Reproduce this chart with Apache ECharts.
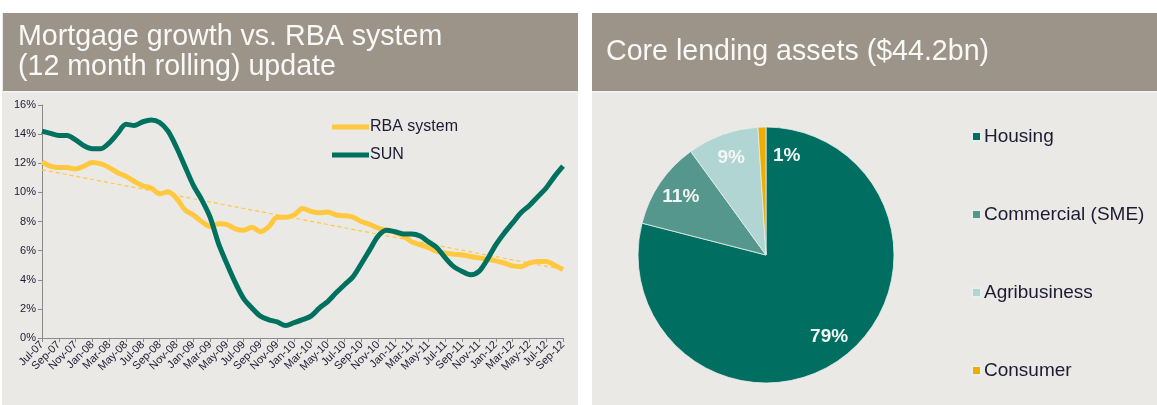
<!DOCTYPE html>
<html>
<head>
<meta charset="utf-8">
<script src="https://cdn.jsdelivr.net/npm/echarts@6/dist/echarts.min.js"></script>
<style>
  html, body { margin: 0; padding: 0; background: #ffffff; }
  #chart { width: 1157px; height: 405px; }
</style>
</head>
<body>
<div id="chart"></div>
<script>
// ---- Data ----
var months = ['Jul-07','Aug-07','Sep-07','Oct-07','Nov-07','Dec-07',
  'Jan-08','Feb-08','Mar-08','Apr-08','May-08','Jun-08','Jul-08','Aug-08','Sep-08','Oct-08','Nov-08','Dec-08',
  'Jan-09','Feb-09','Mar-09','Apr-09','May-09','Jun-09','Jul-09','Aug-09','Sep-09','Oct-09','Nov-09','Dec-09',
  'Jan-10','Feb-10','Mar-10','Apr-10','May-10','Jun-10','Jul-10','Aug-10','Sep-10','Oct-10','Nov-10','Dec-10',
  'Jan-11','Feb-11','Mar-11','Apr-11','May-11','Jun-11','Jul-11','Aug-11','Sep-11','Oct-11','Nov-11','Dec-11',
  'Jan-12','Feb-12','Mar-12','Apr-12','May-12','Jun-12','Jul-12','Aug-12','Sep-12'];

var rbaSystem = [12.1, 11.8, 11.7, 11.7, 11.6, 11.8, 12.05, 11.95, 11.7, 11.35, 11.1, 10.75, 10.45, 10.3, 9.9, 10.05,
  9.6, 8.8, 8.45, 8.0, 7.65, 7.85, 7.8, 7.5, 7.4, 7.6, 7.3, 7.65, 8.3, 8.3, 8.45, 8.9, 8.7, 8.6, 8.65, 8.45,
  8.4, 8.3, 8.0, 7.8, 7.55, 7.4, 7.25, 7.0, 6.6, 6.4, 6.2, 5.95, 5.83, 5.76, 5.7, 5.6, 5.5, 5.4, 5.3, 5.15,
  4.95, 4.9, 5.15, 5.25, 5.25, 5.0, 4.7];

var sun = [14.2, 14.05, 13.9, 13.9, 13.6, 13.2, 13.0, 13.0, 13.4, 14.05, 14.67, 14.6, 14.85, 14.97, 14.8, 14.2,
  13.1, 11.8, 10.5, 9.5, 8.3, 6.5, 5.1, 3.8, 2.7, 2.05, 1.5, 1.25, 1.1, 0.85, 1.05, 1.26, 1.5, 2.05, 2.5, 3.1,
  3.66, 4.2, 5.1, 6.05, 7.0, 7.4, 7.3, 7.15, 7.15, 7.0, 6.6, 6.2, 5.5, 4.9, 4.57, 4.34, 4.57, 5.4, 6.4, 7.2,
  7.9, 8.6, 9.1, 9.7, 10.3, 11.1, 11.8];

// linear trend of RBA system (end points)
var rbaTrendStart = 11.55;
var rbaTrendEnd = 4.7;

var yTicks = [0, 2, 4, 6, 8, 10, 12, 14, 16];

var lendingNames = ['Housing', 'Commercial (SME)', 'Agribusiness', 'Consumer'];
var lendingShares = [79, 11, 9, 1];

var leftTitle = 'Mortgage growth vs. RBA system\n(12 month rolling) update';
var rightTitle = 'Core lending assets ($44.2bn)';

// ---- Styles ----
var GREEN = '#00705f';
var YELLOW = '#ffc83e';
var pieColors = ['#006f62', '#56978d', '#b1d5d2', '#efad00'];
var HEADER = '#9c9389';
var PANEL = '#ebe9e5';
var TEXT = '#1b1b33';
var FONT = '"Liberation Sans", Arial, sans-serif';

var chart = echarts.init(document.getElementById('chart'), null, {renderer: 'canvas'});

var pieData = lendingNames.map(function (n, i) {
  return { name: n, value: lendingShares[i], itemStyle: { color: pieColors[i] } };
});
var pieLabelData = lendingNames.map(function (n, i) {
  var d = { name: n, value: lendingShares[i] };
  if (lendingShares[i] < 3) { d.label = { offset: [24, 4] }; }
  return d;
});

var trendData = [[0, rbaTrendStart], [months.length - 1, rbaTrendEnd]];

var option = {
  animation: false,
  backgroundColor: '#ffffff',
  textStyle: { fontFamily: FONT },
  graphic: [
    { type: 'rect', shape: { x: 2, y: 13, width: 576, height: 392 }, style: { fill: PANEL }, z: -10 },
    { type: 'rect', shape: { x: 592, y: 13, width: 565, height: 392 }, style: { fill: PANEL }, z: -10 },
    { type: 'rect', shape: { x: 3, y: 13, width: 575, height: 78 }, style: { fill: HEADER }, z: -9 },
    { type: 'rect', shape: { x: 592, y: 13, width: 565, height: 78 }, style: { fill: HEADER }, z: -9 },
    { type: 'rect', shape: { x: 3, y: 91, width: 575, height: 2 }, style: { fill: '#f2f1ee' }, z: -9 },
    { type: 'rect', shape: { x: 592, y: 91, width: 565, height: 2 }, style: { fill: '#f2f1ee' }, z: -9 },
    { type: 'text', left: 18, top: 22, style: { text: leftTitle, fill: '#f8f8f6', font: '28.6px ' + FONT, lineHeight: 30 }, z: 5 },
    { type: 'text', left: 606, top: 38, style: { text: rightTitle, fill: '#f8f8f6', font: '28.6px ' + FONT }, z: 5 }
  ],
  legend: [
    {
      data: ['RBA system', 'SUN'],
      orient: 'vertical',
      left: 327,
      top: 114,
      icon: 'rect',
      itemWidth: 37,
      itemHeight: 5,
      itemGap: 12,
      textStyle: { fontSize: 16, color: TEXT, fontFamily: FONT, padding: [0, 0, 0, -4] }
    },
    {
      data: lendingNames,
      orient: 'vertical',
      left: 966,
      top: 122,
      icon: 'rect',
      itemWidth: 9,
      itemHeight: 9,
      itemGap: 59,
      textStyle: { fontSize: 19, color: TEXT, fontFamily: FONT, padding: [0, 0, 0, -2] }
    }
  ],
  grid: { left: 42, top: 105, width: 521, height: 233, containLabel: false },
  xAxis: {
    type: 'category',
    data: months,
    boundaryGap: false,
    axisLine: { lineStyle: { color: '#8a8a8a', width: 1 } },
    axisTick: { interval: 1, length: 4, lineStyle: { color: '#8a8a8a' } },
    axisLabel: { interval: 1, rotate: 45, fontSize: 11, color: TEXT, margin: 5, fontFamily: FONT },
    splitLine: { show: false }
  },
  yAxis: {
    type: 'value',
    min: yTicks[0],
    max: yTicks[yTicks.length - 1],
    interval: yTicks[1] - yTicks[0],
    axisLine: { show: true, lineStyle: { color: '#8a8a8a', width: 1 } },
    axisTick: { show: true, length: 4, lineStyle: { color: '#8a8a8a' } },
    axisLabel: { formatter: '{value}%', fontSize: 11, color: TEXT, margin: 6, fontFamily: FONT },
    splitLine: { show: false }
  },
  series: [
    {
      name: 'RBA system', type: 'line', data: rbaSystem, smooth: 0.3, showSymbol: false,
      lineStyle: { color: YELLOW, width: 5 }, itemStyle: { color: YELLOW }, z: 3
    },
    {
      name: 'RBA trend', type: 'line', data: trendData, showSymbol: false,
      lineStyle: { color: YELLOW, width: 1.2, type: [4, 3] }, itemStyle: { color: YELLOW }, z: 4
    },
    {
      name: 'SUN', type: 'line', data: sun, smooth: 0.3, showSymbol: false,
      lineStyle: { color: GREEN, width: 5 }, itemStyle: { color: GREEN }, z: 5
    },
    {
      name: 'Core lending assets', type: 'pie', center: [766, 255], radius: [0, 128],
      startAngle: 90, clockwise: true, data: pieData,
      label: { show: false }, labelLine: { show: false },
      itemStyle: { borderColor: '#e6efec', borderWidth: 0.8 },
      emphasis: { disabled: true }
    },
    {
      name: 'Core lending labels', type: 'pie', center: [766, 255], radius: [72, 128],
      startAngle: 90, clockwise: true, data: pieLabelData, silent: true,
      itemStyle: { color: 'rgba(0,0,0,0)', borderWidth: 0 },
      label: { show: true, position: 'inside', formatter: '{c}%', color: '#f4f6f5', fontSize: 19, fontWeight: 'bold', fontFamily: FONT },
      labelLine: { show: false },
      emphasis: { disabled: true }
    }
  ]
};
chart.setOption(option);
</script>
</body>
</html>
